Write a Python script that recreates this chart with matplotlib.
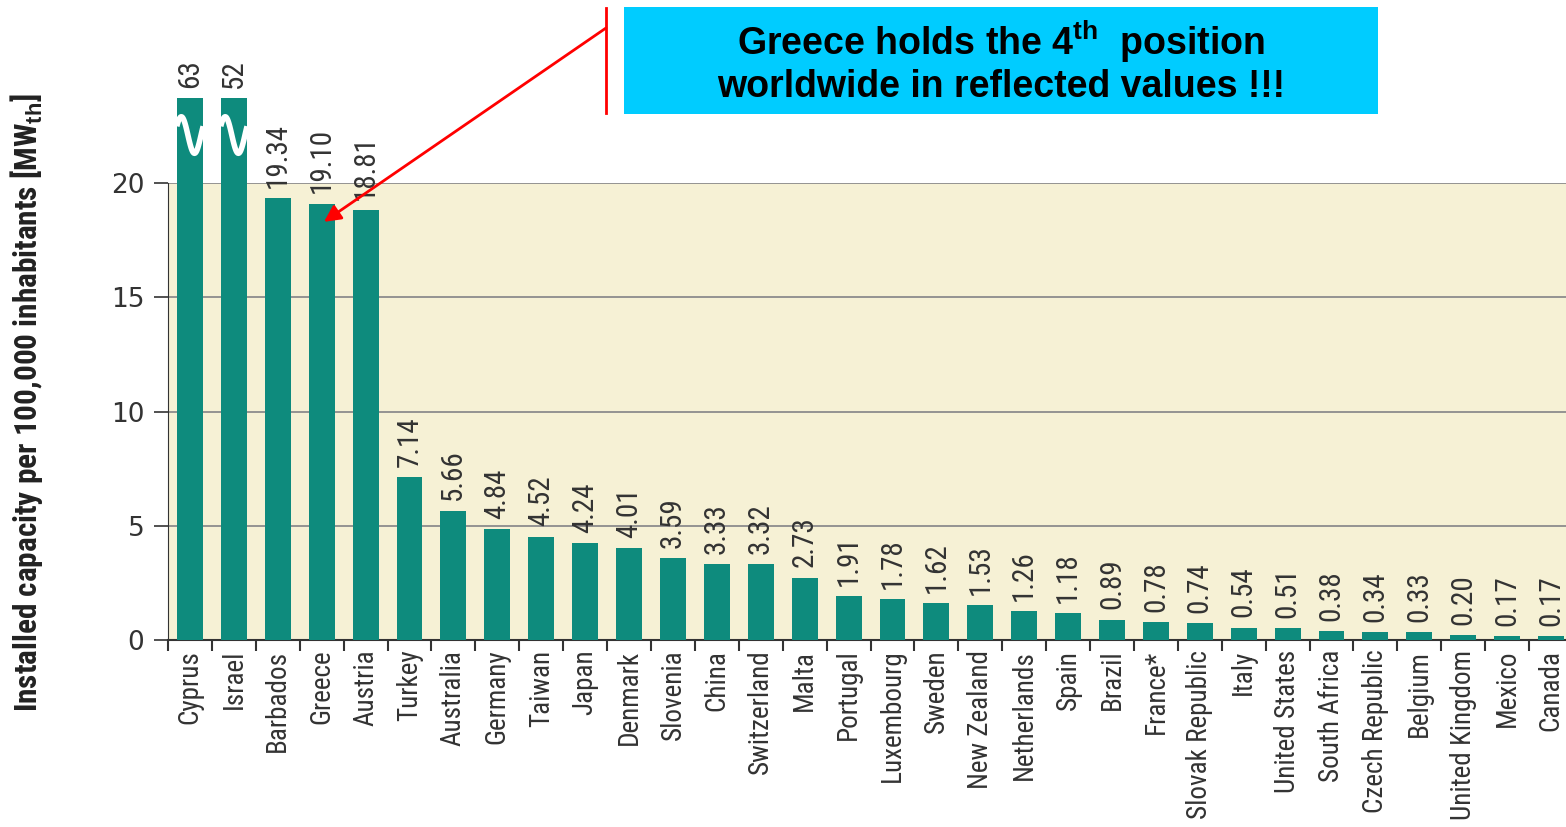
#!/usr/bin/env python3

import numpy as np
import matplotlib
matplotlib.use("Agg")
import matplotlib.pyplot as plt


countries = [
    "Cyprus", "Israel", "Barbados", "Greece", "Austria", "Turkey",
    "Australia", "Germany", "Taiwan", "Japan", "Denmark", "Slovenia",
    "China", "Switzerland", "Malta", "Portugal", "Luxembourg", "Sweden",
    "New Zealand", "Netherlands", "Spain", "Brazil", "France*",
    "Slovak Republic", "Italy", "United States", "South Africa",
    "Czech Republic", "Belgium", "United Kingdom", "Mexico", "Canada",
]
capacity = [
    63, 52, 19.34, 19.10, 18.81, 7.14, 5.66, 4.84, 4.52, 4.24, 4.01, 3.59,
    3.33, 3.32, 2.73, 1.91, 1.78, 1.62, 1.53, 1.26, 1.18, 0.89, 0.78,
    0.74, 0.54, 0.51, 0.38, 0.34, 0.33, 0.20, 0.17, 0.17,
]
value_labels = [
    "63", "52", "19.34", "19.10", "18.81", "7.14", "5.66", "4.84", "4.52",
    "4.24", "4.01", "3.59", "3.33", "3.32", "2.73", "1.91", "1.78", "1.62",
    "1.53", "1.26", "1.18", "0.89", "0.78", "0.74", "0.54", "0.51", "0.38",
    "0.34", "0.33", "0.20", "0.17", "0.17",
]
y_ticks = [0, 5, 10, 15, 20]
highlight = "Greece"

# bars above this height are cut and shown with a break mark
cut_height = 23.7
break_level = 22.1

BAR = "#0e8b7d"
BG = "#f6f1d5"
TXT = "#333333"
NARROW = ["Roboto Condensed", "IBM Plex Sans Condensed", "DejaVu Sans"]

plt.rcParams["mathtext.fontset"] = "custom"
plt.rcParams["mathtext.rm"] = "Liberation Sans"
plt.rcParams["mathtext.bf"] = "Liberation Sans:bold"


def main():
    """
    Draw the installed solar thermal capacity per 100,000 inhabitants.

    Returns:
        None
    """
    fig = plt.figure(figsize=(15.66, 8.27), dpi=100)
    ax = fig.add_axes([0.1073, 0.2261, 0.8927, 0.5526])
    ax.set_facecolor(BG)

    x = np.arange(len(countries))
    shown = [min(v, cut_height) for v in capacity]
    ax.bar(x, shown, width=0.59, color=BAR, zorder=3, clip_on=False)

    # wavy white break mark on the truncated bars
    for xi, v in zip(x, capacity):
        if v > cut_height:
            t = np.linspace(-0.3, 0.3, 60)
            wave = break_level + 0.8 * np.sin((t + 0.3) / 0.6 * 2 * np.pi
                                              + 0.5)
            ax.plot(xi + t, wave, color="white", lw=4, zorder=4,
                    clip_on=False, solid_capstyle="butt")

    for xi, h, lab in zip(x, shown, value_labels):
        ax.text(xi, h + 0.45, lab, rotation=90, ha="center", va="bottom",
                fontsize=21, color=TXT, family=NARROW,
                zorder=5, clip_on=False)

    ax.set_xlim(-0.5, 31.34)
    ax.set_ylim(0, 20)
    ax.set_yticks(y_ticks)
    ax.set_yticklabels([str(t) for t in y_ticks], fontsize=19, color=TXT)
    ax.yaxis.grid(True, color="#8c8c8c", lw=1.3, zorder=1)
    ax.set_axisbelow(True)

    ax.set_xticks(x - 0.5, minor=False)
    ax.set_xticklabels([])
    ax.set_xticks(x, minor=True)
    ax.set_xticklabels(countries, minor=True, rotation=90, ha="center",
                       va="top", fontsize=19.5, color=TXT, family=NARROW)
    ax.tick_params(axis="x", which="minor", length=0, pad=7)
    ax.tick_params(axis="x", which="major", length=8, width=1.5,
                   color="#333333")
    ax.tick_params(axis="y", length=10, width=1.2, color="#333333", pad=7)

    for side in ["top", "right"]:
        ax.spines[side].set_visible(False)
    ax.spines["left"].set_color("#333333")
    ax.spines["bottom"].set_color("#333333")
    ax.spines["bottom"].set_linewidth(1.5)

    ax.set_ylabel(r"Installed capacity per 100,000 inhabitants [MW$_{\mathbf{th}}$]",
                  fontsize=22.5, fontweight="bold", color="#222222",
                  family=NARROW)
    ax.yaxis.set_label_coords(-0.088, 0.52)

    # call-out box with the arrow pointing at Greece
    fig.patches.append(plt.Rectangle((624 / 1566, 1 - 114 / 827),
                                     754 / 1566, 107 / 827,
                                     transform=fig.transFigure,
                                     facecolor="#00ccff", edgecolor="none"))
    fig.text(1001 / 1566, 1 - 42 / 827,
             r"Greece holds the 4$^{\mathbf{th}}$  position",
             ha="center", va="center", fontsize=27, fontweight="bold",
             family="Liberation Sans")
    fig.text(1001 / 1566, 1 - 87 / 827,
             "worldwide in reflected values !!!",
             ha="center", va="center", fontsize=27, fontweight="bold",
             family="Liberation Sans")
    fig.add_artist(plt.Line2D([606 / 1566, 606 / 1566],
                              [1 - 8 / 827, 1 - 113 / 827],
                              transform=fig.transFigure, color="red", lw=2))
    gi = countries.index(highlight)
    ax.annotate("", xy=(gi + 0.05, capacity[gi] - 0.8),
                xytext=(606 / 1566, 1 - 28 / 827),
                textcoords="figure fraction",
                arrowprops=dict(arrowstyle="-|>", color="red", lw=2,
                                mutation_scale=25, shrinkA=0, shrinkB=0),
                zorder=6)

    fig.savefig("out.png", dpi=100)


if __name__ == "__main__":
    main()
